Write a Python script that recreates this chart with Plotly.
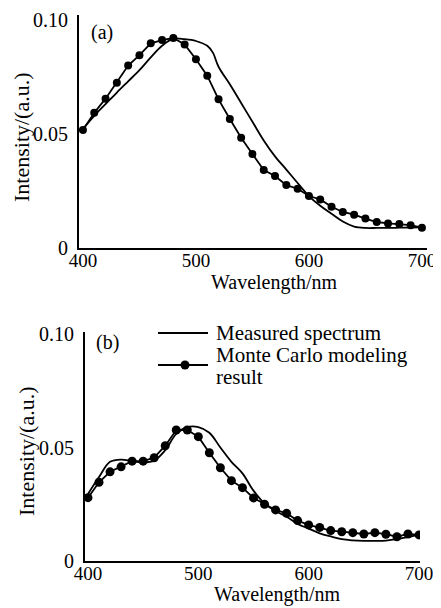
import plotly.graph_objects as go

# ---------------- data ----------------
wavelength = list(range(400, 701, 10))
wavelength_a_meas = [400, 410, 420, 430, 440, 450, 460, 470, 480, 490, 500, 510, 515, 520,
                     530, 540, 550, 560, 570, 580, 590, 600, 610, 620, 630, 640, 650, 660,
                     670, 680, 690, 700]

measured_a = [0.0523, 0.0580, 0.0631, 0.0682, 0.0731, 0.0780, 0.0836, 0.0887, 0.0918, 0.0916,
              0.0908, 0.0887, 0.0857, 0.0795, 0.0718, 0.0636, 0.0554, 0.0472, 0.0402, 0.0344,
              0.0285, 0.0228, 0.0185, 0.0150, 0.0116, 0.0094, 0.0088, 0.0088, 0.0088, 0.0089,
              0.0090, 0.0092]

model_a = [0.0518, 0.0593, 0.0655, 0.0725, 0.0800, 0.0846, 0.0898, 0.0912, 0.0921, 0.0893,
           0.0828, 0.0756, 0.0652, 0.0566, 0.0484, 0.0412, 0.0342, 0.0316, 0.0276, 0.0260,
           0.0228, 0.0213, 0.0181, 0.0158, 0.0146, 0.0129, 0.0114, 0.0108, 0.0105, 0.0100,
           0.0089]

measured_b = [0.0295, 0.0370, 0.0437, 0.0447, 0.0440, 0.0434, 0.0442, 0.0488, 0.0560, 0.0590,
              0.0590, 0.0565, 0.0500, 0.0437, 0.0386, 0.0310, 0.0253, 0.0220, 0.0195, 0.0163,
              0.0143, 0.0122, 0.0108, 0.0096, 0.0091, 0.0089, 0.0089, 0.0090, 0.0096, 0.0106,
              0.0115]

model_b = [0.0279, 0.0347, 0.0393, 0.0415, 0.0440, 0.0440, 0.0455, 0.0508, 0.0577, 0.0577,
           0.0548, 0.0477, 0.0411, 0.0354, 0.0323, 0.0278, 0.0250, 0.0225, 0.0210, 0.0178,
           0.0159, 0.0148, 0.0134, 0.0129, 0.0125, 0.0119, 0.0125, 0.0118, 0.0107, 0.0119,
           0.0115]

x_ticks = [400, 500, 600, 700]
y_tickvals = [0, 0.05, 0.10]
y_ticktext = ["0", "0.05", "0.10"]

series_names = ["Measured spectrum", "Monte Carlo modeling result"]

# ---------------- figure ----------------
# the page body has an 8px margin, so the figure is sized to fill the rest of the window
OFF = 8
W, H = 441 - OFF, 608 - OFF
FONT = "Liberation Serif, Times New Roman, serif"

def px_x(p):
    return (p - OFF) / W

def px_y(p):
    return 1 - (p - OFF) / H

fig = go.Figure()

line_style = dict(color="black", width=1.8)
marker_style = dict(color="black", size=9, symbol="circle")

fig.add_trace(go.Scatter(x=wavelength_a_meas, y=measured_a, mode="lines", line=line_style,
                         line_shape="spline", xaxis="x", yaxis="y", showlegend=False,
                         name=series_names[0]))
fig.add_trace(go.Scatter(x=wavelength, y=model_a, mode="lines+markers", line=line_style,
                         marker=dict(marker_style, size=8), xaxis="x", yaxis="y",
                         showlegend=False, name=series_names[1]))
fig.add_trace(go.Scatter(x=wavelength, y=measured_b, mode="lines", line=line_style,
                         line_shape="spline", xaxis="x2", yaxis="y2", showlegend=False,
                         name=series_names[0]))
fig.add_trace(go.Scatter(x=wavelength, y=model_b, mode="lines+markers", line=line_style,
                         marker=marker_style, xaxis="x2", yaxis="y2", showlegend=False,
                         name=series_names[1]))

axis_common = dict(showline=True, linecolor="black", linewidth=1.8, mirror=False,
                   showgrid=False, zeroline=False, ticks="", automargin=False,
                   tickfont=dict(family=FONT, size=20, color="black"))

fig.update_layout(
    width=W, height=H, autosize=False,
    margin=dict(l=0, r=0, t=0, b=0, pad=0, autoexpand=False),
    paper_bgcolor="white", plot_bgcolor="white",
    font=dict(family=FONT, color="black"),
    xaxis=dict(axis_common, domain=[px_x(79), px_x(427)], range=[396.5, 704.5],
               tickvals=x_ticks, anchor="y", ticklabelstandoff=-6,
               tickfont=dict(family=FONT, size=19, color="black")),
    yaxis=dict(axis_common, domain=[px_y(248), px_y(15)], range=[0, 0.1022],
               tickvals=y_tickvals, ticktext=y_ticktext, anchor="x", ticklabelstandoff=5),
    xaxis2=dict(axis_common, domain=[px_x(85), px_x(420)], range=[397.3, 700.9],
                tickvals=x_ticks, anchor="y2", ticklabelstandoff=-6,
                tickfont=dict(family=FONT, size=19, color="black")),
    yaxis2=dict(axis_common, domain=[px_y(561), px_y(332)], range=[0, 0.1009],
                tickvals=y_tickvals, ticktext=y_ticktext, anchor="x2", ticklabelstandoff=5),
)

ann_font = dict(family=FONT, size=21, color="black")
annotations = [
    dict(text="Wavelength/nm", x=px_x(274), y=px_y(282), xref="paper", yref="paper",
         showarrow=False, font=dict(ann_font, size=20), xanchor="center", yanchor="middle"),
    dict(text="Wavelength/nm", x=px_x(277), y=px_y(594), xref="paper", yref="paper",
         showarrow=False, font=dict(ann_font, size=20), xanchor="center", yanchor="middle"),
    dict(text="Intensity/(a.u.)", x=px_x(22), y=px_y(137), xref="paper", yref="paper",
         showarrow=False, font=dict(ann_font, size=22), textangle=-90,
         xanchor="center", yanchor="middle"),
    dict(text="Intensity/(a.u.)", x=px_x(26), y=px_y(451), xref="paper", yref="paper",
         showarrow=False, font=dict(ann_font, size=22), textangle=-90,
         xanchor="center", yanchor="middle"),
    dict(text="(a)", x=px_x(89), y=px_y(32), xref="paper", yref="paper",
         showarrow=False, font=dict(ann_font, size=20), xanchor="left", yanchor="middle"),
    dict(text="(b)", x=px_x(94), y=px_y(342), xref="paper", yref="paper",
         showarrow=False, font=dict(ann_font, size=20), xanchor="left", yanchor="middle"),
    # legend text
    dict(text="Measured spectrum", x=px_x(214), y=px_y(333), xref="paper", yref="paper",
         showarrow=False, font=ann_font, xanchor="left", yanchor="middle"),
    dict(text="Monte Carlo modeling", x=px_x(214), y=px_y(355), xref="paper", yref="paper",
         showarrow=False, font=ann_font, xanchor="left", yanchor="middle"),
    dict(text="result", x=px_x(214), y=px_y(377), xref="paper", yref="paper",
         showarrow=False, font=ann_font, xanchor="left", yanchor="middle"),
]
fig.update_layout(annotations=annotations)

# legend keys
shapes = [
    dict(type="line", xref="paper", yref="paper", x0=px_x(158), x1=px_x(208),
         y0=px_y(333), y1=px_y(333), line=dict(color="black", width=1.8)),
    dict(type="line", xref="paper", yref="paper", x0=px_x(158), x1=px_x(208),
         y0=px_y(365), y1=px_y(365), line=dict(color="black", width=1.8)),
    dict(type="circle", xref="paper", yref="paper", x0=px_x(180.5), x1=px_x(189.5),
         y0=px_y(360.5), y1=px_y(369.5), fillcolor="black", line=dict(color="black", width=0)),
]
fig.update_layout(shapes=shapes)

fig.write_html("out.html")
